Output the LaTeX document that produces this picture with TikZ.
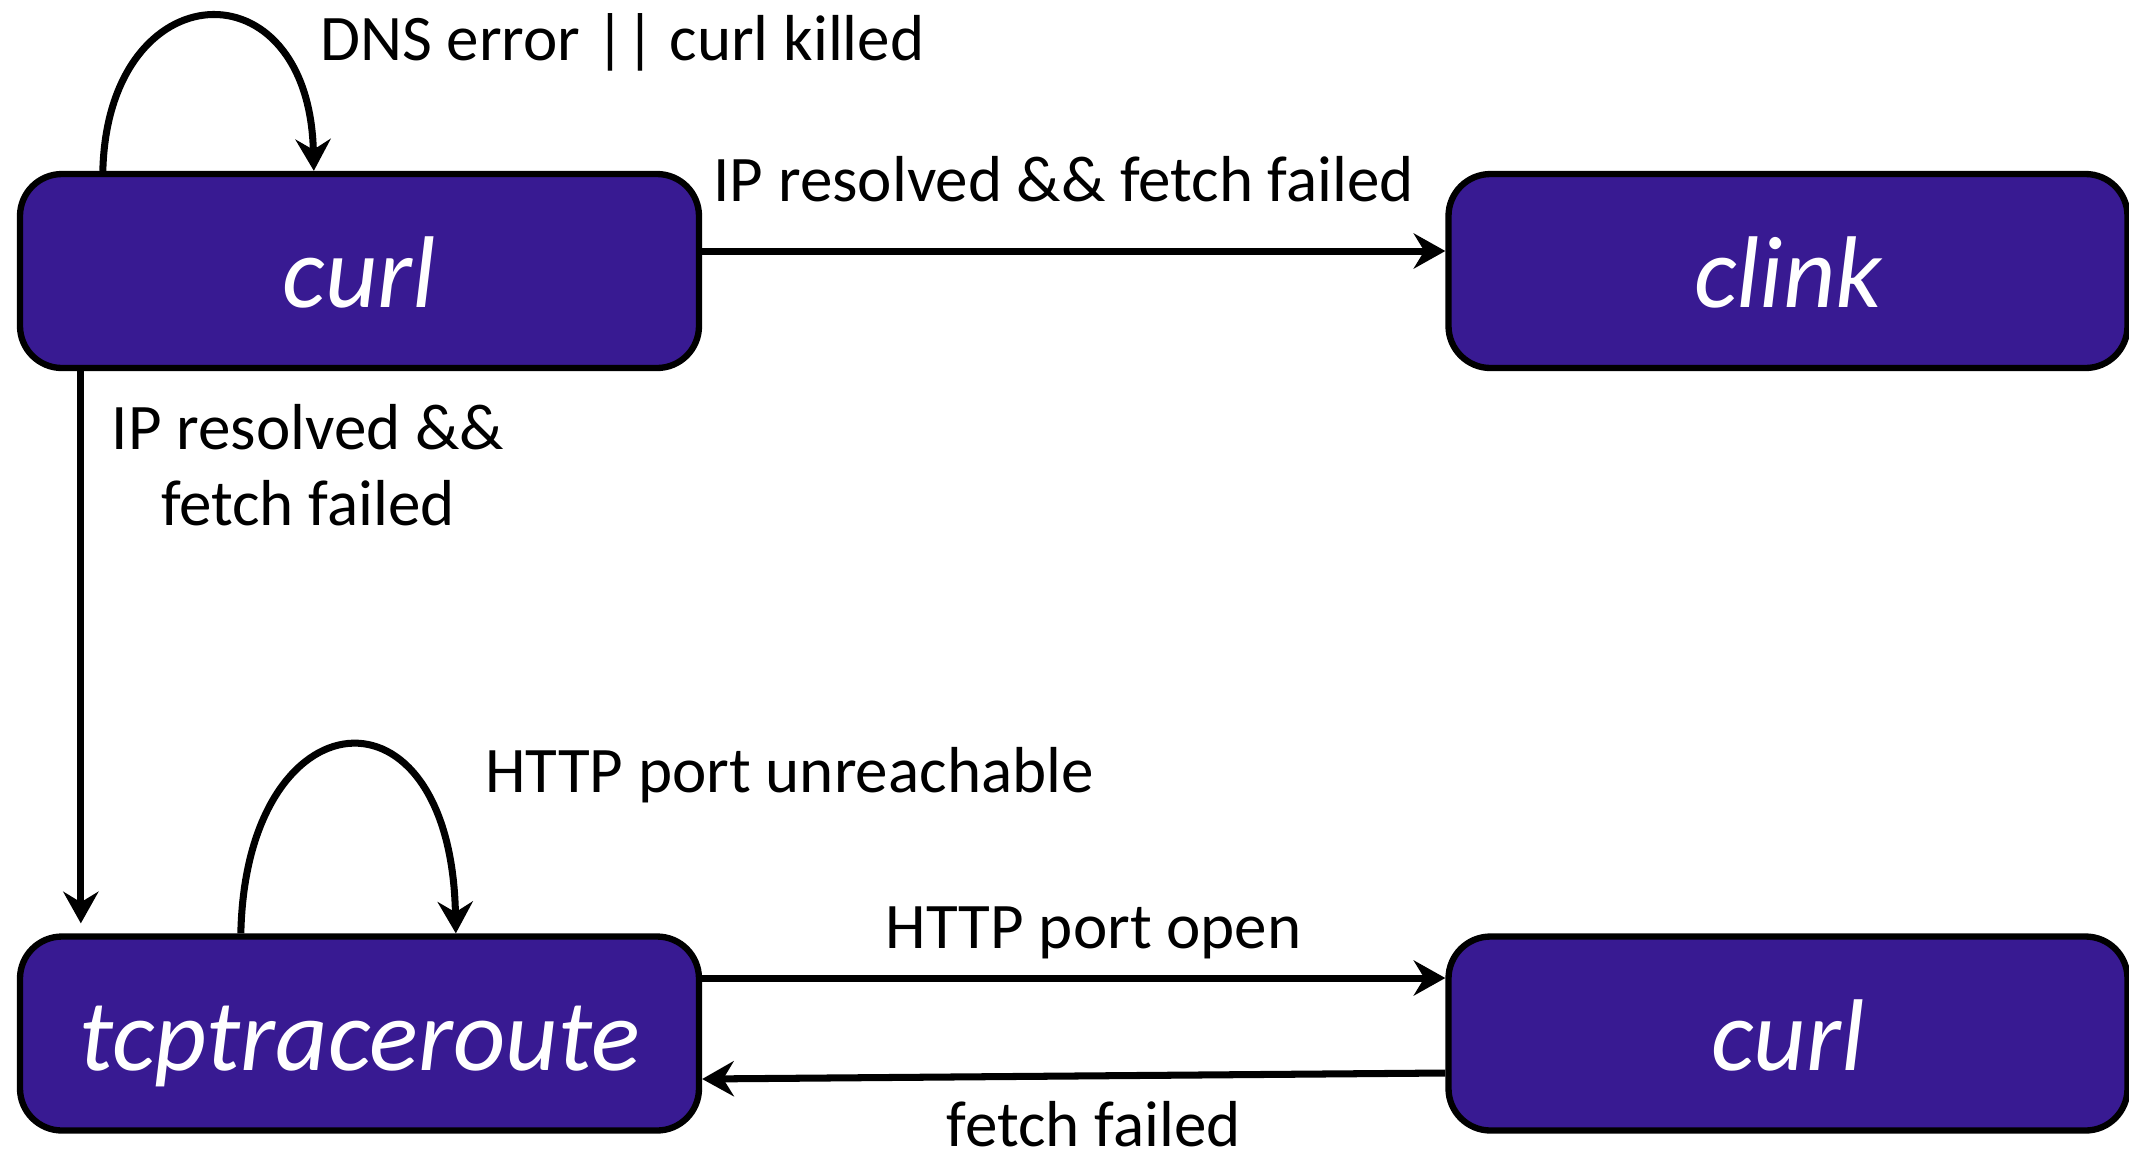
\documentclass[tikz,border=0pt]{standalone}
\usepackage{fontspec}
\setmainfont{Carlito}
\usetikzlibrary{arrows.meta}
\definecolor{stateblue}{RGB}{56,26,146}
\begin{document}
\begin{tikzpicture}[>={Stealth[length=9pt,width=10pt,inset=3pt]},line width=2pt,font=\fontsize{18.5}{21.5}\selectfont,
		state/.style={draw,line width=1.8pt,fill=stateblue,rounded corners=0.42cm,minimum width=6.79cm,minimum height=1.94cm,text=white,text height=21pt,text depth=0pt,font=\fontsize{29}{34}\selectfont\itshape}]
				\useasboundingbox (0,0) rectangle (21.29,-11.62);
				\node[state] (curl) at (3.595,-2.71) {curl};
				\node[state] (clink) at (17.88,-2.71) {clink};
				\node[state] (tcp) at (3.595,-10.335) {tcptraceroute};
				\node[state] (curlb) at (17.88,-10.335) {curl};
				\draw[->] ([xshift=0.86cm]curl.north west) .. controls +(0.05,2.0) and +(-0.05,2.1) .. ([xshift=2.97cm]curl.north west);
				\node[anchor=base west] (dnslbl) at (3.05,-0.60) {DNS error || curl killed};
				\draw[->] ([yshift=0.2cm]curl.east) -- ([yshift=0.2cm]clink.west) node[midway,anchor=base,yshift=0.5cm,xshift=-0.1cm]{IP resolved \&\& fetch failed};
				\draw[->] ([xshift=0.64cm]curl.south west) -- ([xshift=0.64cm,yshift=0.1cm]tcp.north west) node[pos=0.17,xshift=2.27cm,align=center]{IP resolved \&\&\\fetch failed};
				\draw[->] ([xshift=2.24cm]tcp.north west) .. controls +(0.05,2.4) and +(-0.05,2.6) .. ([xshift=4.39cm]tcp.north west);
				\node[anchor=base west] (httplbl) at (4.70,-7.92) {HTTP port unreachable};
				\draw[->] ([yshift=0.555cm]tcp.east) -- ([yshift=0.555cm]curlb.west) node[midway,anchor=base,yshift=0.30cm,xshift=0.2cm]{HTTP port open};
				\draw[->] ([yshift=-0.395cm]curlb.west) -- ([yshift=-0.455cm]tcp.east) node[midway,anchor=base,yshift=-0.70cm,xshift=0.2cm]{fetch failed};
			\end{tikzpicture}
\end{document}
